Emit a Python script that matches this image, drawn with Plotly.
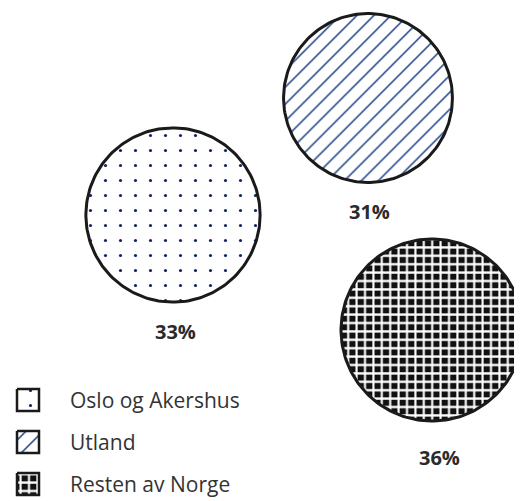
import numpy as np
import plotly.graph_objects as go

# data
regions = ["Oslo og Akershus", "Utland", "Resten av Norge"]
shares = [33, 31, 36]

# layout / style (pixel coordinates of the 522x501 window)
centers = [(173, 215), (368, 98), (432, 330)]
R_MAX = 91
label_pos = [(175, 331), (369, 211), (439, 457)]
patterns = [
    dict(shape=".", fgcolor="#0f2466", bgcolor="white", size=15, solidity=0.035, fgopacity=1),
    dict(shape="/", fgcolor="#173a82", bgcolor="white", size=12, solidity=0.12, fgopacity=1),
    dict(shape="+", fgcolor="white", bgcolor="#111111", size=8.4, solidity=0.44, fgopacity=1),
]
legend_x, legend_y0, legend_dy, box = 17, 400, 42, 22
W, H = 522, 501
PAD = 8  # default body margin of the html page

fig = go.Figure()


def circle(cx, cy, r, n=200):
    t = np.linspace(0, 2 * np.pi, n)
    return cx + r * np.cos(t), cy + r * np.sin(t)


r_scale = R_MAX / np.sqrt(max(shares))
for name, v, (cx, cy), pat, (lx, ly) in zip(regions, shares, centers, patterns, label_pos):
    xs, ys = circle(cx, cy, r_scale * np.sqrt(v))
    fig.add_trace(go.Scatter(
        x=xs, y=ys, mode="lines", fill="toself",
        fillcolor=pat["bgcolor"], fillpattern=pat,
        line=dict(color="#1a1a1a", width=3),
        hoverinfo="skip", showlegend=False,
    ))
    fig.add_annotation(x=lx, y=ly, text="<b>%d%%</b>" % v, showarrow=False,
                       font=dict(size=20, color="#2b2b2b", family="Open Sans"))

# custom legend
for i, (name, pat) in enumerate(zip(regions, patterns)):
    yc = legend_y0 + i * legend_dy
    bx = [legend_x, legend_x + box, legend_x + box, legend_x, legend_x]
    by = [yc - box / 2, yc - box / 2, yc + box / 2, yc + box / 2, yc - box / 2]
    fig.add_trace(go.Scatter(
        x=bx, y=by, mode="lines", fill="toself",
        fillcolor=pat["bgcolor"], fillpattern=pat,
        line=dict(color="#1a1a1a", width=2.5),
        hoverinfo="skip", showlegend=False,
    ))
    fig.add_annotation(x=68, y=yc, text=name, xanchor="left", showarrow=False,
                       font=dict(size=21, color="#333333", family="Open Sans"))

fig.update_xaxes(range=[PAD, W], visible=False, fixedrange=True)
fig.update_yaxes(range=[H, PAD], visible=False, fixedrange=True)
fig.update_layout(width=W - PAD, height=H - PAD, margin=dict(l=0, r=0, t=0, b=0),
                  plot_bgcolor="white", paper_bgcolor="white")

fig.write_html("out.html")
